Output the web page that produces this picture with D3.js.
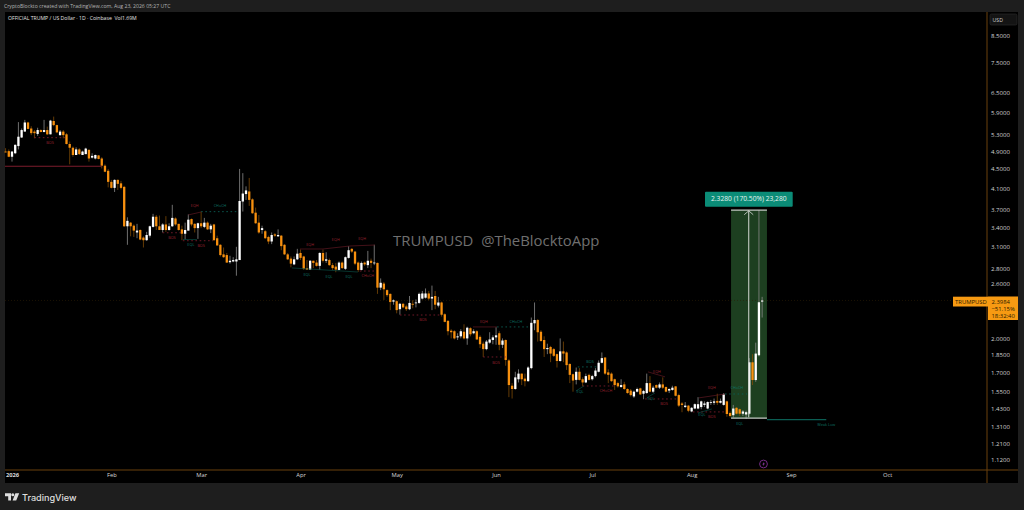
<!DOCTYPE html>
<html lang="en">
<head>
<meta charset="UTF-8">
<title>TRUMPUSD</title>
<script src="https://cdn.jsdelivr.net/npm/d3@7"></script>
<style>
  html, body { margin: 0; padding: 0; background: #1e1e1e; overflow: hidden; }
  svg { display: block; }
  text { font-family: "Open Sans", sans-serif; }
</style>
</head>
<body>
<svg id="chart" width="1024" height="510"></svg>
<script>
// days are counted from Jan 1 2026, first candle is Dec 30 2025
const firstDay = -2;

// open, high, low, close
const ohlc = [
  [4.89,4.97,4.87,4.87],[4.90,4.94,4.76,4.77],[4.77,4.90,4.66,4.89],[4.85,5.06,4.83,5.05],[5.02,5.63,4.94,5.25],
  [5.23,5.46,5.22,5.42],[5.38,5.69,5.38,5.62],[5.62,5.64,5.44,5.45],[5.46,5.52,5.29,5.34],[5.38,5.42,5.21,5.34],
  [5.32,5.48,5.27,5.42],[5.42,5.44,5.36,5.37],[5.37,5.69,5.36,5.42],[5.42,5.51,5.29,5.31],[5.31,5.69,5.31,5.67],
  [5.66,5.78,5.52,5.55],[5.55,5.56,5.34,5.36],[5.29,5.42,5.27,5.38],[5.38,5.42,5.21,5.29],[5.31,5.34,5.06,5.07],
  [5.07,5.13,4.60,4.98],[4.98,5.01,4.77,4.81],[4.81,4.99,4.81,4.94],[4.94,4.97,4.81,4.83],[4.81,4.91,4.81,4.89],
  [4.83,4.98,4.83,4.96],[4.93,4.94,4.66,4.73],[4.75,4.85,4.73,4.79],[4.73,4.82,4.71,4.81],[4.80,4.81,4.71,4.72],
  [4.73,4.76,4.51,4.57],[4.57,4.60,4.43,4.44],[4.46,4.50,4.12,4.23],[4.23,4.27,4.10,4.11],[4.11,4.28,4.03,4.27],
  [4.27,4.28,4.07,4.19],[4.20,4.25,4.08,4.11],[4.13,4.15,3.41,3.42],[3.42,3.57,3.13,3.51],[3.48,3.49,3.26,3.42],
  [3.43,3.45,3.25,3.35],[3.32,3.46,3.23,3.35],[3.36,3.37,3.20,3.21],[3.24,3.26,3.09,3.20],[3.20,3.33,3.19,3.28],
  [3.27,3.43,3.24,3.42],[3.41,3.63,3.40,3.58],[3.58,3.61,3.36,3.42],[3.42,3.60,3.36,3.36],[3.36,3.47,3.32,3.45],
  [3.45,3.59,3.33,3.36],[3.36,3.47,3.35,3.42],[3.42,3.79,3.41,3.56],[3.55,3.57,3.43,3.45],[3.46,3.46,3.35,3.36],
  [3.37,3.43,3.20,3.30],[3.30,3.48,3.21,3.36],[3.35,3.62,3.35,3.53],[3.54,3.55,3.42,3.45],[3.46,3.47,3.32,3.39],
  [3.39,3.48,3.22,3.47],[3.47,3.67,3.39,3.42],[3.41,3.56,3.39,3.48],[3.48,3.50,3.36,3.37],[3.37,3.46,3.31,3.43],
  [3.45,3.46,3.19,3.20],[3.23,3.27,3.12,3.12],[3.13,3.14,2.96,2.98],[2.99,3.09,2.94,2.95],[2.98,3.01,2.87,2.875],
  [2.88,2.97,2.86,2.90],[2.89,2.95,2.88,2.91],[2.89,3.10,2.70,2.92],[2.91,4.50,2.91,3.86],[3.85,4.41,3.67,4.00],
  [3.99,4.14,3.88,4.06],[4.04,4.31,3.77,3.88],[3.89,3.91,3.63,3.64],[3.65,3.74,3.46,3.47],[3.48,3.61,3.30,3.32],
  [3.36,3.43,3.30,3.39],[3.34,3.36,3.22,3.23],[3.25,3.27,3.14,3.18],[3.18,3.32,3.14,3.28],[3.29,3.31,3.25,3.27],
  [3.26,3.37,3.25,3.28],[3.27,3.28,3.05,3.11],[3.13,3.14,2.98,2.99],[2.99,3.01,2.91,2.92],[2.93,2.96,2.81,2.86],
  [2.85,2.96,2.84,2.92],[2.92,3.07,2.91,3.00],[3.01,3.06,2.91,2.94],[2.96,2.97,2.775,2.79],[2.80,2.91,2.775,2.78],
  [2.78,2.91,2.775,2.90],[2.90,2.90,2.80,2.87],[2.875,2.91,2.82,2.83],[2.83,3.02,2.775,3.01],[3.01,3.06,2.875,2.90],
  [2.90,3.02,2.87,2.92],[2.91,2.93,2.83,2.84],[2.84,2.87,2.775,2.80],[2.82,2.87,2.745,2.78],[2.775,2.89,2.77,2.875],
  [2.875,2.89,2.79,2.80],[2.79,2.96,2.775,2.95],[2.94,3.11,2.93,3.05],[3.07,3.08,3.01,3.03],[3.03,3.04,2.84,2.86],
  [2.875,2.89,2.75,2.775],[2.775,2.89,2.77,2.87],[2.875,2.89,2.83,2.85],[2.84,3.04,2.80,2.90],[2.90,2.93,2.80,2.87],
  [2.87,3.13,2.84,2.875],[2.87,2.875,2.475,2.55],[2.55,2.665,2.52,2.61],[2.60,2.62,2.404,2.53],[2.52,2.53,2.44,2.46],
  [2.475,2.48,2.29,2.38],[2.385,2.41,2.35,2.40],[2.39,2.40,2.255,2.29],[2.30,2.37,2.24,2.36],[2.36,2.37,2.31,2.32],
  [2.33,2.35,2.28,2.30],[2.30,2.45,2.29,2.37],[2.36,2.40,2.31,2.35],[2.37,2.41,2.32,2.375],[2.37,2.49,2.36,2.475],
  [2.42,2.51,2.41,2.48],[2.43,2.54,2.42,2.48],[2.48,2.51,2.40,2.42],[2.42,2.575,2.29,2.44],[2.45,2.51,2.30,2.35],
  [2.34,2.44,2.32,2.375],[2.375,2.385,2.22,2.24],[2.245,2.255,2.16,2.165],[2.175,2.184,2.03,2.07],[2.075,2.09,2.00,2.06],
  [2.07,2.08,1.99,2.00],[2.01,2.05,1.985,2.02],[2.02,2.09,2.00,2.07],[2.065,2.14,1.99,2.00],[2.00,2.115,1.94,2.105],
  [2.10,2.11,2.02,2.04],[2.05,2.09,2.04,2.07],[2.07,2.08,1.985,1.99],[2.015,2.03,1.91,1.945],[1.95,1.97,1.83,1.90],
  [1.90,1.985,1.89,1.97],[1.96,2.06,1.95,1.99],[1.985,2.03,1.945,2.01],[2.01,2.11,1.94,2.03],[2.05,2.07,1.89,1.94],
  [1.94,2.00,1.91,1.98],[1.985,1.99,1.755,1.804],[1.80,1.81,1.51,1.60],[1.595,1.615,1.50,1.57],[1.57,1.705,1.565,1.66],
  [1.645,1.725,1.62,1.69],[1.69,1.69,1.60,1.645],[1.65,1.69,1.59,1.63],[1.63,1.75,1.625,1.74],[1.735,2.21,1.725,2.155],
  [2.15,2.375,2.08,2.184],[2.184,2.195,1.97,2.06],[2.065,2.08,1.97,1.975],[1.985,2.02,1.83,1.90],[1.90,1.95,1.855,1.91],
  [1.92,1.93,1.785,1.86],[1.90,1.91,1.83,1.84],[1.855,1.86,1.74,1.795],[1.795,2.00,1.79,1.88],[1.88,1.97,1.785,1.86],
  [1.87,1.88,1.72,1.76],[1.77,1.775,1.615,1.68],[1.685,1.69,1.55,1.635],[1.64,1.74,1.605,1.705],[1.705,1.735,1.635,1.64],
  [1.645,1.66,1.59,1.62],[1.62,1.69,1.615,1.67],[1.68,1.69,1.635,1.64],[1.645,1.68,1.635,1.67],[1.67,1.735,1.66,1.715],
  [1.705,1.80,1.70,1.78],[1.78,1.87,1.775,1.82],[1.825,1.83,1.68,1.69],[1.70,1.725,1.615,1.68],[1.69,1.70,1.625,1.63],
  [1.645,1.65,1.563,1.60],[1.615,1.625,1.58,1.59],[1.585,1.645,1.58,1.60],[1.605,1.625,1.563,1.57],[1.57,1.575,1.535,1.54],
  [1.558,1.57,1.515,1.525],[1.515,1.558,1.505,1.55],[1.55,1.58,1.545,1.57],[1.575,1.58,1.525,1.53],[1.535,1.563,1.495,1.555],
  [1.54,1.69,1.535,1.615],[1.615,1.67,1.545,1.55],[1.55,1.595,1.54,1.58],[1.60,1.605,1.575,1.58],[1.58,1.62,1.57,1.605],
  [1.605,1.66,1.57,1.58],[1.585,1.59,1.545,1.55],[1.558,1.575,1.54,1.57],[1.563,1.595,1.558,1.58],[1.59,1.59,1.515,1.52],
  [1.525,1.535,1.44,1.45],[1.465,1.475,1.405,1.455],[1.44,1.475,1.435,1.45],[1.45,1.455,1.405,1.415],[1.41,1.44,1.405,1.435],
  [1.43,1.465,1.425,1.46],[1.43,1.51,1.425,1.46],[1.44,1.485,1.425,1.48],[1.455,1.48,1.44,1.465],[1.43,1.48,1.425,1.475],
  [1.47,1.49,1.455,1.475],[1.47,1.50,1.455,1.48],[1.483,1.535,1.455,1.47],[1.47,1.50,1.465,1.483],[1.455,1.54,1.45,1.53],
  [1.48,1.485,1.375,1.393],[1.40,1.41,1.37,1.38],[1.385,1.455,1.37,1.43],[1.435,1.44,1.39,1.395],[1.425,1.43,1.38,1.395],
  [1.395,1.42,1.38,1.41],[1.39,1.415,1.36,1.405],[1.395,1.82,1.39,1.784],[1.784,1.855,1.60,1.639],[1.639,1.96,1.625,1.86],
  [1.845,3.697,1.835,2.378],[2.385,2.44,2.21,2.398]
];

const priceTicks = [8.5,7.5,6.5,5.9,5.3,4.9,4.5,4.1,3.7,3.4,3.1,2.8,2.6,2.0,1.85,1.7,1.55,1.43,1.31,1.21,1.12];
const monthNames = ["2026","Feb","Mar","Apr","May","Jun","Jul","Aug","Sep","Oct"];
const monthDays = [0,31,59,90,120,151,181,212,243,273];

const lastPrice = 2.3984;
const measureLow = 1.3655, measureMove = 2.328;
const measureDays = [224.3, 235.5];
const measureArrowDay = 230;
const weakLow = [235.5, 254, 1.356];
const redLevel = [-2.2, 28, 4.558];

// dotted levels: from day, to day, price
const redDotted = [[7,16.5,5.226],[47,53,3.316],[53.3,62.7,3.192],[108.5,113.5,2.761],[121,134,2.237],
  [147,154,1.83],[178,188,1.593],[197.5,207.5,1.497],[212.4,222.4,1.407]];
const tealDotted = [[59,70,3.668],[151.3,161,2.113],[176.5,183,1.745],[222.4,229.3,1.533]];

// sloped lines: day, price, day, price
const redLines = [[55,3.611,59,3.662],[89.8,3.068,97,3.068],[97,3.068,105.4,3.112],[105.4,3.112,113.2,3.127],
  [143.8,2.113,151.3,2.113],[198.4,1.704,203.7,1.664],[214.3,1.505,222.4,1.533]];
const tealLines = [[53.3,3.21,57.7,3.21],[87.3,2.802,107.9,2.748],[175.9,1.555,178.4,1.593],[198,1.505,200.6,1.541],[214,1.4,218.3,1.427]];

// tag, day, price
const redTags = [["BOS",11.85,5.096],["BOS",49.9,3.234],["BOS",59,3.112],["EQH",57,3.768],["EQH",93,3.14],["EQH",101,3.203],
  ["EQH",109.2,3.219],["CHoCH",111,2.697],["BOS",128.2,2.184],["EQH",147.2,2.168],["BOS",151,1.778],["CHoCH",185.3,1.555],
  ["EQH",201.2,1.704],["BOS",203.4,1.461],["EQH",218.3,1.578],["BOS",218.3,1.374]];
const tealTags = [["CHoCH",64.9,3.768],["EQL",55.8,3.14],["EQL",92,2.711],["EQL",98.9,2.685],["EQL",105.1,2.69],["CHoCH",157.2,2.163],
  ["BOS",180.3,1.787],["EQL",177.2,1.548],["EQL",199.3,1.497],["EQL",215.2,1.387],["CHoCH",226.1,1.578],["EQL",227,1.329],["Weak Low",254,1.323]];

const paneLeft = 5, paneRight = 1018, paneTop = 12, paneBottom = 483, axisX = 987, axisY = 470;
const up = "#ffffff", down = "#f7900f", upWick = "#8a8a8a", downWick = "#7d4a06";
const red = "#7c1c2c", teal = "#0b5e53", frame = "#6b400c";

const svg = d3.select("#chart");

const x = d3.scaleLinear().domain([0, 243]).range([12, 791]);
const y = d3.scaleLog().domain([8.5, 1.12]).range([36, 459.6]);
const barW = (x(1) - x(0)) * 0.72;

svg.append("rect").attr("x", paneLeft).attr("y", paneTop).attr("width", paneRight - paneLeft).attr("height", paneBottom - paneTop).attr("fill", "#000");

// measure box goes under the candles
const measureTop = measureLow + measureMove;
svg.append("rect")
  .attr("x", x(measureDays[0])).attr("width", x(measureDays[1]) - x(measureDays[0]))
  .attr("y", y(measureTop)).attr("height", y(measureLow) - y(measureTop))
  .attr("fill", "#1d3f20");

// last price line
svg.append("line").attr("x1", paneLeft).attr("x2", 953).attr("y1", y(lastPrice)).attr("y2", y(lastPrice))
  .attr("stroke", "#2e2006").attr("stroke-width", 0.6).attr("stroke-dasharray", "1 2");

// watermark
svg.append("text").attr("x", 393).attr("y", 246).attr("font-size", 14.9).attr("fill", "#6f6f6f").attr("xml:space", "preserve")
  .text("TRUMPUSD  @TheBlocktoApp");

// candles
const candles = svg.append("g").selectAll("g").data(ohlc).enter().append("g");
candles.append("line")
  .attr("x1", (d, i) => x(firstDay + i)).attr("x2", (d, i) => x(firstDay + i))
  .attr("y1", d => y(d[1])).attr("y2", d => y(d[2]))
  .attr("stroke", d => d[3] >= d[0] ? upWick : downWick).attr("stroke-width", 0.8);
candles.append("rect")
  .attr("x", (d, i) => x(firstDay + i) - barW / 2).attr("width", barW)
  .attr("y", d => y(Math.max(d[0], d[3])))
  .attr("height", d => Math.max(0.8, Math.abs(y(d[0]) - y(d[3]))))
  .attr("fill", d => d[3] >= d[0] ? up : down);

// annotations
function dotted(rows, color) {
  svg.append("g").selectAll("line").data(rows).enter().append("line")
    .attr("x1", d => x(d[0])).attr("x2", d => x(d[1])).attr("y1", d => y(d[2])).attr("y2", d => y(d[2]))
    .attr("stroke", color).attr("stroke-width", 0.9).attr("stroke-dasharray", "1.6 2.6");
}
function sloped(rows, color) {
  svg.append("g").selectAll("line").data(rows).enter().append("line")
    .attr("x1", d => x(d[0])).attr("y1", d => y(d[1])).attr("x2", d => x(d[2])).attr("y2", d => y(d[3]))
    .attr("stroke", color).attr("stroke-width", 0.7);
}
function tags(rows, color) {
  svg.append("g").selectAll("text").data(rows).enter().append("text")
    .attr("x", d => x(d[1])).attr("y", d => y(d[2]) + 1.4)
    .attr("text-anchor", "middle").attr("font-size", 3.8).attr("fill", color)
    .text(d => d[0]);
}
dotted(redDotted, red);
dotted(tealDotted, teal);
sloped(redLines, "#5e1822");
sloped(tealLines, "#0a4a42");
tags(redTags, "#96202f");
tags(tealTags, "#0d7466");

svg.append("line").attr("x1", x(redLevel[0])).attr("x2", x(redLevel[1])).attr("y1", y(redLevel[2])).attr("y2", y(redLevel[2]))
  .attr("stroke", red).attr("stroke-width", 1.1);
svg.append("line").attr("x1", x(weakLow[0])).attr("x2", x(weakLow[1])).attr("y1", y(weakLow[2])).attr("y2", y(weakLow[2]))
  .attr("stroke", teal).attr("stroke-width", 1.1);

// measure tool on top of candles
const mx = x(measureArrowDay) - 0.6;
const measure = svg.append("g").attr("fill", "none").attr("stroke", "#c4cbc4");
measure.append("line").attr("x1", x(measureDays[0])).attr("x2", x(measureDays[1])).attr("y1", y(measureTop)).attr("y2", y(measureTop)).attr("stroke-width", 1.2);
measure.append("line").attr("x1", x(measureDays[0])).attr("x2", x(measureDays[1])).attr("y1", y(measureLow)).attr("y2", y(measureLow)).attr("stroke-width", 1.2);
measure.append("line").attr("x1", mx).attr("x2", mx).attr("y1", y(measureTop)).attr("y2", y(measureLow) - 1).attr("stroke-width", 1.1);
measure.append("path").attr("stroke-width", 0.9)
  .attr("d", "M" + (mx - 4.5) + "," + (y(measureTop) + 4.5) + "L" + mx + "," + (y(measureTop) + 0.6) + "L" + (mx + 4.5) + "," + (y(measureTop) + 4.5));

svg.append("rect").attr("x", 705).attr("y", 191.7).attr("width", 87.7).attr("height", 15).attr("rx", 1).attr("fill", "#0b8c77");
svg.append("text").attr("x", 748.8).attr("y", 201.4).attr("text-anchor", "middle").attr("font-size", 6.7).attr("fill", "#e8f5f2")
  .text("2.3280 (170.50%) 23,280");

// axes frame
svg.append("line").attr("x1", paneLeft).attr("x2", paneRight).attr("y1", axisY).attr("y2", axisY).attr("stroke", frame).attr("stroke-width", 1);
svg.append("line").attr("x1", axisX).attr("x2", axisX).attr("y1", paneTop).attr("y2", paneBottom).attr("stroke", frame).attr("stroke-width", 1);

const yAxis = svg.append("g").attr("transform", "translate(" + axisX + ",0)")
  .call(d3.axisRight(y).tickValues(priceTicks).tickSize(0).tickPadding(4).tickFormat(d => d.toFixed(4)));
yAxis.select(".domain").remove();
yAxis.selectAll("text").attr("font-family", "Open Sans").attr("font-size", 6.1).attr("fill", "#d2d2d2");

const xAxis = svg.append("g").attr("transform", "translate(0," + axisY + ")")
  .call(d3.axisBottom(x).tickValues(monthDays).tickSize(0).tickPadding(3).tickFormat((d, i) => monthNames[i]));
xAxis.select(".domain").remove();
xAxis.selectAll("text").attr("font-family", "Open Sans").attr("font-size", 5.8).attr("fill", "#d8d8d8")
  .attr("font-weight", (d, i) => i === 0 ? 700 : 400);

// USD box
svg.append("rect").attr("x", 990).attr("y", 14).attr("width", 27).attr("height", 11).attr("rx", 1.5).attr("fill", "#141414").attr("stroke", "#2a2a2a").attr("stroke-width", 0.7);
svg.append("text").attr("x", 992.5).attr("y", 21.6).attr("font-size", 5.2).attr("fill", "#cfcfcf").text("USD");

// last price label
svg.append("rect").attr("x", 953).attr("y", 296.7).attr("width", 65).attr("height", 9.8).attr("fill", "#f79a12");
svg.append("rect").attr("x", 988).attr("y", 296.7).attr("width", 30).attr("height", 23.3).attr("fill", "#f79a12");
svg.append("text").attr("x", 955).attr("y", 303.6).attr("font-size", 5.9).attr("fill", "#2a1a00").text("TRUMPUSD");
["2.3984", "\u221251.15%", "18:32:40"].forEach((s, i) => {
  svg.append("text").attr("x", 991.5).attr("y", 303.6 + i * 7.4).attr("font-size", 5.9).attr("fill", "#2a1a00").text(s);
});

// earnings marker
svg.append("circle").attr("cx", 763.5).attr("cy", 464).attr("r", 3.9).attr("fill", "none").attr("stroke", "#7f2f92").attr("stroke-width", 0.9);
svg.append("path").attr("d", "M764.4,461.4L762.3,464.4H763.6L762.7,466.6L764.9,463.5H763.6Z").attr("fill", "#9a3fb0");

// header text
svg.append("text").attr("x", 4).attr("y", 7.8).attr("font-size", 5.15).attr("fill", "#b5b5b5")
  .text("CryptoBlockto created with TradingView.com, Aug 23, 2026 05:27 UTC");
svg.append("text").attr("x", 8).attr("y", 20).attr("font-size", 5.15).attr("fill", "#e2e2e2").attr("xml:space", "preserve")
  .text("OFFICIAL TRUMP / US Dollar \u00b7 1D \u00b7 Coinbase  Vol1.69M");

// footer logo
svg.append("path").attr("fill", "#dedede")
  .attr("d", "M5,493.2H11V500.6H8.2V496.2H5Z M15.4,493.2H19.2L16.2,500.6H12.6Z");
svg.append("circle").attr("cx", 12.8).attr("cy", 494.8).attr("r", 1.5).attr("fill", "#dedede");
svg.append("text").attr("x", 22).attr("y", 500.8).attr("font-size", 9.1).attr("font-weight", 500).attr("fill", "#dedede")
  .style("font-family", "Inter").text("TradingView");
</script>
</body>
</html>
